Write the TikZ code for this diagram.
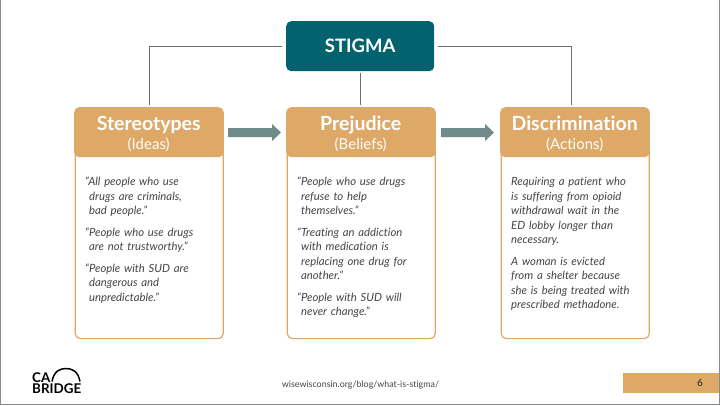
\documentclass[tikz,border=0pt]{standalone}
\usepackage{fontspec}
\setmainfont{Lato}[Ligatures=NoCommon]
\definecolor{teal1}{HTML}{04626F}
\definecolor{tan1}{HTML}{DEA966}
\definecolor{arrowc}{HTML}{6F8B8C}
\definecolor{linec}{HTML}{6E6E6E}
\definecolor{txt}{HTML}{454545}
\tikzset{
 x=1pt,y=-1pt,
 bodybox/.style={draw=tan1,line width=1.2pt,fill=white,rounded corners=5pt,minimum width=148pt,minimum height=230pt,anchor=north west,inner sep=0pt},
 headbox/.style={fill=tan1,rounded corners=5pt,minimum width=149.5pt,minimum height=50pt,anchor=north west,inner sep=0pt},
 headtitle/.style={anchor=base,inner sep=0pt,text=white,font=\fontsize{19.5}{21}\selectfont\bfseries},
 headsub/.style={anchor=base,inner sep=0pt,text=white,font=\fontsize{15}{16}\selectfont},
 topbox/.style={fill=teal1,rounded corners=5pt,minimum width=148pt,minimum height=50pt,anchor=north west,inner sep=0pt,text=white,font=\fontsize{18.5}{20}\selectfont\bfseries},
 conn/.style={draw=linec,line width=1pt},
 flow/.style={fill=arrowc,draw=none},
 quote/.style={anchor=north west,inner sep=0pt,align=left,text=txt,font=\fontsize{11.3}{14.5}\selectfont\itshape,text width=135pt},
 small/.style={text=txt,font=\fontsize{8.9}{11}\selectfont,inner sep=0pt},
 logo/.style={anchor=north west,inner sep=0pt,align=left,text=black,font=\fontsize{13.4}{11.6}\selectfont\bfseries},
}
\begin{document}
\begin{tikzpicture}
\useasboundingbox (0,0) rectangle (720,405);
\fill[white] (0,0) rectangle (720,405);
\draw[draw=linec!80,line width=1pt] (0.5,0) -- (0.5,404.5) -- (719.5,404.5) -- (719.5,0);
% boxes
\node[bodybox] (b1) at (74.7,108) {};
\node[bodybox] (b2) at (286.7,108) {};
\node[bodybox] (b3) at (500.7,108) {};
\node[headbox] (h1) at (74,107) {};
\node[headbox] (h2) at (286,107) {};
\node[headbox] (h3) at (500,107) {};
\node[headtitle] (t1a) at (148.7,130) {Stereotypes};
\node[headtitle] (t2a) at (360.7,130) {Prejudice};
\node[headtitle] (t3a) at (574.7,130) {Discrimination};
\node[headsub] (t1b) at (148.7,149.5) {(Ideas)};
\node[headsub] (t2b) at (360.7,149.5) {(Beliefs)};
\node[headsub] (t3b) at (574.7,149.5) {(Actions)};
\node[topbox] (s) at (286,21) {STIGMA};
% connectors
\coordinate (cl) at (149,46);
\coordinate (cr) at (571,46);
\coordinate (sl) at (282,46);
\coordinate (sr) at (438,46);
\coordinate (sb) at (360,73);
\coordinate (m2) at (360,105);
\coordinate (t1) at (149,105);
\coordinate (t3) at (571,105);
\draw[conn] (sl) -- (cl) -- (t1);
\draw[conn] (sr) -- (cr) -- (t3);
\draw[conn] (sb) -- (m2);
% flow arrows
\fill[flow] (228,128) -- (272,128) -- (272,124) -- (281,132.5) -- (272,141) -- (272,137) -- (228,137) -- cycle;
\fill[flow] (441,128) -- (485,128) -- (485,124) -- (494,132.5) -- (485,141) -- (485,137) -- (441,137) -- cycle;
% texts
\node[quote] (q1) at (85,177) {“All people who use\\\hspace*{4pt}drugs are criminals,\\\hspace*{4pt}bad people.”\\[7pt]“People who use drugs\\\hspace*{4pt}are not trustworthy.”\\[7pt]“People with SUD are\\\hspace*{4pt}dangerous and\\\hspace*{4pt}unpredictable.”};
\node[quote] (q2) at (297,177) {“People who use drugs\\\hspace*{4pt}refuse to help\\\hspace*{4pt}themselves.”\\[7pt]“Treating an addiction\\\hspace*{4pt}with medication is\\\hspace*{4pt}replacing one drug for\\\hspace*{4pt}another.”\\[7pt]“People with SUD will\\\hspace*{4pt}never change.”};
\node[quote] (q3) at (511,177) {Requiring a patient who\\is suffering from opioid\\withdrawal wait in the\\ED lobby longer than\\necessary.\\[7pt]A woman is evicted\\from a shelter because\\she is being treated with\\prescribed methadone.};
\node[small] (url) at (360.5,385) {wisewisconsin.org/blog/what-is-stigma/};
% page bar
\fill[tan1] (623,373) rectangle (719,393);
\node[small,font=\fontsize{10}{12}\selectfont\bfseries] (pg) at (700,383) {6};
% logo
\node[logo] (ca) at (32,372) {CA\\BRIDGE};
\draw[black,line width=1.5pt] (52,381.5) .. controls (54,371) and (60,368.5) .. (66,368.5) .. controls (72,368.5) and (78,371) .. (80,381.5);
\end{tikzpicture}
\end{document}
